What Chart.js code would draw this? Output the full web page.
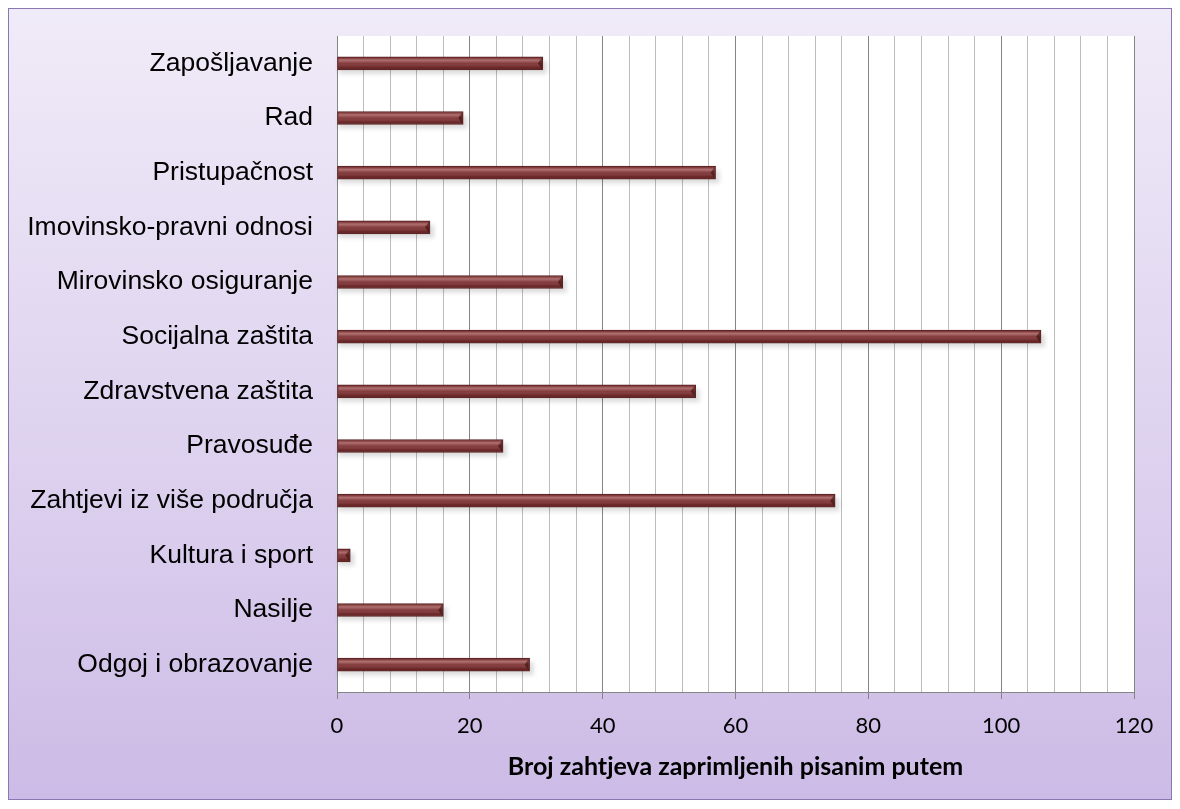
<!DOCTYPE html>
<html>
<head>
<meta charset="utf-8">
<script src="https://cdn.jsdelivr.net/npm/chart.js@4.4.1/dist/chart.umd.min.js"></script>
<style>
    html, body { margin: 0; padding: 0; background: #ffffff; }
    #frame {
        position: absolute;
        left: 8px;
        top: 8px;
        width: 1164px;
        height: 792px;
        box-sizing: border-box;
        border: 1px solid #8a76b0;
        background: linear-gradient(to bottom, #f0ebf8 0%, #dcd0ee 60%, #ccbbe6 100%);
    }
    #chart { display: block; }
</style>
</head>
<body>
<div id="frame">
    <canvas id="chart" width="1162" height="790"></canvas>
</div>
<script>
const categories = [
    'Zapošljavanje',
    'Rad',
    'Pristupačnost',
    'Imovinsko-pravni odnosi',
    'Mirovinsko osiguranje',
    'Socijalna zaštita',
    'Zdravstvena zaštita',
    'Pravosuđe',
    'Zahtjevi iz više područja',
    'Kultura i sport',
    'Nasilje',
    'Odgoj i obrazovanje'
];
const requestCounts = [31, 19, 57, 14, 34, 106, 54, 25, 75, 2, 16, 29];
const axisMin = 0;
const axisMax = 120;
const gridStep = 4;
const labelStep = 20;
const axisTitle = 'Broj zahtjeva zaprimljenih pisanim putem';

// white plot area behind the grid
const plotBackground = {
    id: 'plotBackground',
    beforeDraw(chart) {
        const { ctx, chartArea: a } = chart;
        ctx.save();
        ctx.fillStyle = '#ffffff';
        ctx.fillRect(a.left, a.top, a.right - a.left, a.bottom - a.top);
        ctx.restore();
    }
};

// soft shadow under the bars and a cylinder-like shine on top of them
const barShine = {
    id: 'barShine',
    beforeDatasetsDraw(chart) {
        const { ctx } = chart;
        const meta = chart.getDatasetMeta(0);
        ctx.save();
        ctx.fillStyle = 'rgba(60, 60, 60, 0.18)';
        ctx.filter = 'blur(2px)';
        meta.data.forEach(bar => {
            const h = bar.height;
            ctx.fillRect(bar.base + 1, bar.y - h / 2 + 4, bar.x - bar.base + 3, h);
        });
        ctx.restore();
    },
    afterDatasetsDraw(chart) {
        const { ctx } = chart;
        const meta = chart.getDatasetMeta(0);
        ctx.save();
        meta.data.forEach(bar => {
            const h = bar.height;
            const top = bar.y - h / 2;
            const g = ctx.createLinearGradient(0, top, 0, top + h);
            g.addColorStop(0, 'rgba(60, 10, 10, 0.25)');
            g.addColorStop(0.25, 'rgba(255, 200, 200, 0.40)');
            g.addColorStop(0.5, 'rgba(255, 220, 220, 0.05)');
            g.addColorStop(0.8, 'rgba(40, 0, 0, 0.20)');
            g.addColorStop(1, 'rgba(30, 0, 0, 0.40)');
            ctx.fillStyle = g;
            ctx.fillRect(bar.base + 1, top + 1, bar.x - bar.base - 2, h - 2);
            // bevel at the end of the bar
            ctx.fillStyle = 'rgba(50, 10, 10, 0.55)';
            ctx.beginPath();
            ctx.moveTo(bar.x - 1, top + 1);
            ctx.lineTo(bar.x - 1, top + h - 1);
            ctx.lineTo(bar.x - 5, top + h / 2);
            ctx.closePath();
            ctx.fill();
        });
        ctx.restore();
    }
};

function isMajor(value) {
    return value % labelStep === 0;
}

new Chart(document.getElementById('chart'), {
    type: 'bar',
    data: {
        labels: categories,
        datasets: [{
            data: requestCounts,
            backgroundColor: '#7e3435',
            borderColor: '#572122',
            borderWidth: 1,
            borderSkipped: false,
            barThickness: 13
        }]
    },
    options: {
        indexAxis: 'y',
        responsive: false,
        animation: false,
        layout: {
            padding: { top: 27, right: 37, left: 0, bottom: 0 }
        },
        plugins: {
            legend: { display: false },
            tooltip: { enabled: false }
        },
        scales: {
            x: {
                min: axisMin,
                max: axisMax,
                afterFit(scale) { scale.height = 107; },
                ticks: {
                    stepSize: gridStep,
                    autoSkip: false,
                    maxRotation: 0,
                    padding: 14,
                    color: '#000000',
                    font: { family: 'Lato', size: 22 },
                    callback: value => isMajor(value) ? value : ''
                },
                grid: {
                    color: ctx => isMajor(ctx.tick.value) ? '#858585' : '#bcbcbc',
                    tickColor: ctx => isMajor(ctx.tick.value) ? '#858585' : 'rgba(0,0,0,0)',
                    tickLength: 7,
                    lineWidth: 1
                },
                border: { color: '#858585', width: 1 },
                title: {
                    display: true,
                    text: axisTitle,
                    color: '#000000',
                    font: { family: 'Lato', size: 25, weight: 'bold' },
                    padding: { top: 6, bottom: 17 }
                }
            },
            y: {
                afterFit(scale) {
                    scale.width = 328;
                    scale.paddingTop = 0;
                    scale.paddingBottom = 0;
                },
                ticks: {
                    padding: 16,
                    color: '#000000',
                    font: { family: 'Liberation Sans', size: 26.5 }
                },
                grid: { display: false },
                border: { color: '#858585', width: 1 }
            }
        }
    },
    plugins: [plotBackground, barShine]
});
</script>
</body>
</html>
